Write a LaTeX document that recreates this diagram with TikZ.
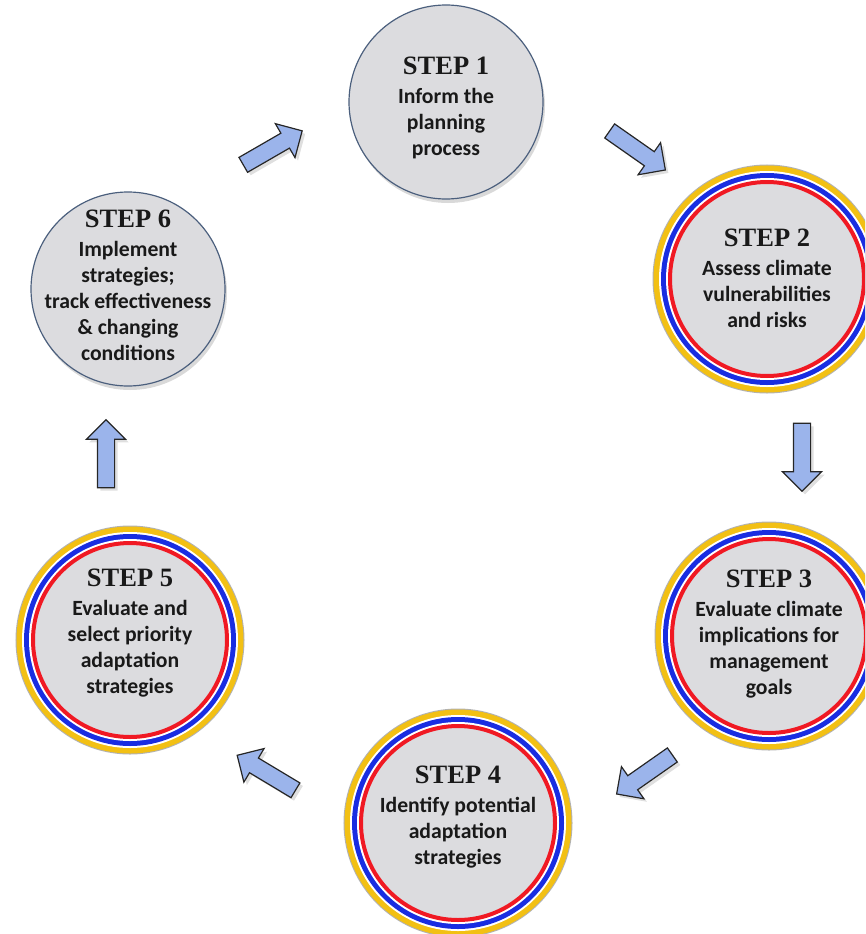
\documentclass[tikz,border=0pt]{standalone}
\usepackage{fontspec}
\setmainfont{Carlito}
\newfontfamily\stepfont{Liberation Serif}
\usetikzlibrary{shapes.arrows,shadows}
\definecolor{stepgray}{RGB}{220,220,223}
\definecolor{rimblue}{RGB}{75,95,125}
\definecolor{ringyellow}{RGB}{242,192,20}
\definecolor{ringblue}{RGB}{25,45,225}
\definecolor{ringred}{RGB}{240,25,35}
\definecolor{arrowblue}{RGB}{155,180,235}
\newcommand{\stephead}[1]{{\stepfont\fontsize{26.5}{26}\selectfont STEP #1}\\[3pt]}
\tikzset{
	plain/.style={circle,minimum size=194pt,inner sep=0pt,fill=stepgray,draw=rimblue,line width=1.2pt,
		drop shadow={shadow xshift=2pt,shadow yshift=-4pt,opacity=0.3}},
	ringed/.style={circle,minimum size=194pt,inner sep=0pt,fill=stepgray,draw=ringred,line width=4pt,
		preaction={draw=black!30,line width=35pt},
		preaction={draw=ringyellow,line width=33pt},
		preaction={draw=white,line width=22pt},
		preaction={draw=ringblue,line width=18pt},
		preaction={draw=white,line width=8pt}},
	steptext/.style={align=center,text=black!90,font=\bfseries\fontsize{21.7}{26}\selectfont},
	cyclearrow/.style={single arrow,draw=black!85,line width=1.2pt,fill=arrowblue,minimum height=68pt,
		text height=0pt,text depth=0pt,inner xsep=0pt,inner ysep=8pt,single arrow head extend=11pt,
		drop shadow={shadow xshift=3pt,shadow yshift=-3pt,opacity=0.25}}
}
\begin{document}
\begin{tikzpicture}[x=1pt,y=-1pt]
	\useasboundingbox (0,0) rectangle (865,934);
	\clip (0,0) rectangle (865,934);
	\node [plain] (s1) at (446,102) {};
	\node [ringed] (s2) at (767,279) {};
	\node [ringed] (s3) at (769,636) {};
	\node [ringed] (s4) at (458,823) {};
	\node [ringed] (s5) at (130,640) {};
	\node [plain] (s6) at (128,289) {};
	
	\node [steptext] (t1) at (446,108) {\stephead{1}Inform the\\planning\\process};
	\node [steptext] (t2) at (767,278) {\stephead{2}Assess climate\\vulnerabilities\\and risks};
	\node [steptext] (t3) at (769,634) {\stephead{3}Evaluate climate\\implications for\\management\\goals};
	\node [steptext] (t4) at (458,817) {\stephead{4}Identify potential\\adaptation\\strategies};
	\node [steptext] (t5) at (130,633) {\stephead{5}Evaluate and\\select priority\\adaptation\\strategies};
	\node [steptext] (t6) at (128,285) {\stephead{6}Implement\\strategies;\\track effectiveness\\\& changing\\conditions};
	
	\node [cyclearrow,rotate=30] (a61) at (269,150) {};
	\node [cyclearrow,rotate=-35] (a12) at (634,148) {};
	\node [cyclearrow,rotate=-90] (a23) at (802,453) {};
	\node [cyclearrow,rotate=215] (a34) at (648,772) {};
	\node [cyclearrow,rotate=149] (a45) at (270,775) {};
	\node [cyclearrow,rotate=90] (a56) at (106,458) {};
\end{tikzpicture}
\end{document}
